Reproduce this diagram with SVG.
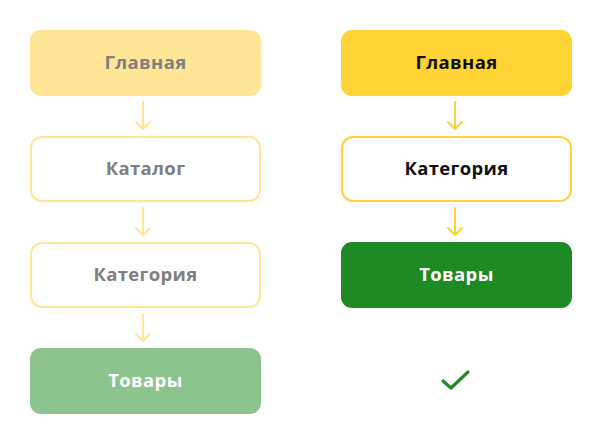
<svg xmlns="http://www.w3.org/2000/svg" width="602" height="444" viewBox="0 0 602 444">
<style>
text{font-family:"Open Sans","Noto Sans",sans-serif;font-weight:700;font-size:18.5px;letter-spacing:0.35px;text-anchor:middle;dominant-baseline:central}
.g{fill:#808080}.k{fill:#111}.w{fill:#fff}
.ar{fill:none;stroke-width:2;stroke-linecap:round;stroke-linejoin:round}
</style>
<rect width="602" height="444" fill="#fff"/>
<g id="connectors">
<g class="ar" stroke="#FFE596">
<path d="M143 102V129M136 122L143 129L150 122"/>
<path d="M143 208V235M136 228L143 235L150 228"/>
<path d="M143 314V341M136 334L143 341L150 334"/>
</g>
<g class="ar" stroke="#FFD333">
<path d="M455 102V129M448 122L455 129L462 122"/>
<path d="M455 208V235M448 228L455 235L462 228"/>
</g>
</g>
<g id="l1"><rect x="30" y="30" width="231" height="66" rx="11" fill="#FFE596"/><text x="145.5" y="61" class="g">Главная</text></g>
<g id="l2"><rect x="31" y="137" width="229" height="64" rx="11" fill="#fff" stroke="#FFE596" stroke-width="2"/><text x="145.5" y="167" class="g">Каталог</text></g>
<g id="l3"><rect x="31" y="243" width="229" height="64" rx="11" fill="#fff" stroke="#FFE596" stroke-width="2"/><text x="145.5" y="273" class="g">Категория</text></g>
<g id="l4"><rect x="30" y="348" width="231" height="66" rx="11" fill="#8DC38D"/><text x="145.5" y="379" class="w">Товары</text></g>
<g id="r1"><rect x="341" y="30" width="231" height="66" rx="11" fill="#FFD333"/><text x="456.5" y="61" class="k">Главная</text></g>
<g id="r2"><rect x="342" y="137" width="229" height="64" rx="11" fill="#fff" stroke="#FFD333" stroke-width="2"/><text x="456.5" y="167" class="k">Категория</text></g>
<g id="r3"><rect x="341" y="242" width="231" height="66" rx="11" fill="#1E8A23"/><text x="456.5" y="273" class="w">Товары</text></g>
<g id="check"><path d="M443 381L451 388L468 372" fill="none" stroke="#1E8A23" stroke-width="3.2" stroke-linecap="round" stroke-linejoin="round"/></g>
</svg>
